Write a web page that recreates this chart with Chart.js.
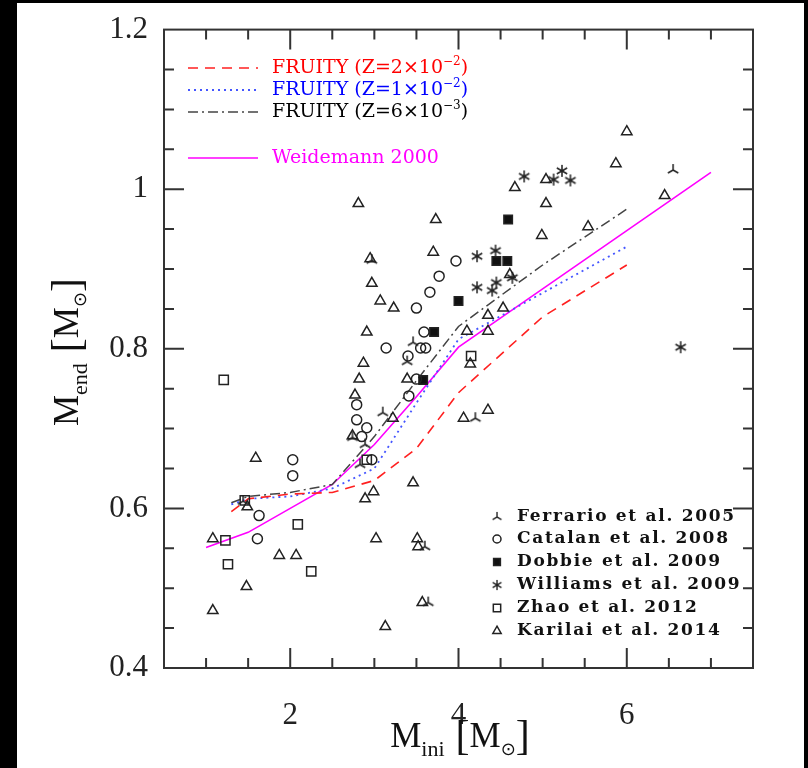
<!DOCTYPE html>
<html>
<head>
<meta charset="utf-8">
<script src="https://cdn.jsdelivr.net/npm/chart.js@4.4.0/dist/chart.umd.min.js"></script>
<style>
html, body { margin: 0; background: #000; }
#wrap { position: absolute; left: 17px; top: 3px; width: 787px; height: 765px; background: #fff; }
</style>
</head>
<body>
<div id="wrap"><canvas id="myChart"></canvas></div>
<script>
// FRUITY model tracks (M_ini -> M_end)
const fruityMass = [1.3, 1.5, 2, 2.5, 3, 3.5, 4, 5, 6];
const fruityZ020 = [0.596, 0.612, 0.618, 0.620, 0.635, 0.675, 0.745, 0.840, 0.905];
const fruityZ010 = [0.605, 0.612, 0.615, 0.625, 0.650, 0.732, 0.812, 0.870, 0.928];
const fruityZ006 = [0.607, 0.615, 0.620, 0.630, 0.690, 0.760, 0.828, 0.905, 0.975];

// Weidemann 2000 relation
const weidMass = [1, 1.5, 2, 2.5, 3, 3.5, 4, 5, 6, 7];
const weidMend = [0.551, 0.570, 0.600, 0.630, 0.680, 0.740, 0.802, 0.875, 0.948, 1.021];

// observed clusters
const ferrarioX = [6.55, 4.20, 3.46, 3.10, 2.83, 2.74, 3.60, 3.64, 1.44, 3.39, 2.89, 2.97];
const ferrarioY = [1.024, 0.713, 0.808, 0.720, 0.655, 0.689, 0.552, 0.482, 0.609, 0.784, 0.680, 0.911];

const catalanX = [2.03, 2.03, 1.63, 1.61, 3.14, 3.59, 3.55, 3.61, 3.40, 3.41, 3.50, 2.79, 2.79, 2.91, 2.85, 2.97, 3.97, 3.77, 3.66, 3.50];
const catalanY = [0.661, 0.641, 0.591, 0.562, 0.801, 0.821, 0.801, 0.801, 0.791, 0.741, 0.762, 0.730, 0.711, 0.701, 0.690, 0.661, 0.910, 0.891, 0.871, 0.851];

const dobbieX = [4.59, 4.45, 4.58, 4.00, 3.71, 3.58];
const dobbieY = [0.962, 0.910, 0.910, 0.860, 0.821, 0.761];

const williamsX = [4.78, 5.23, 5.13, 5.33, 4.22, 4.44, 4.64, 4.22, 4.45, 4.40, 6.64];
const williamsY = [1.016, 1.023, 1.012, 1.011, 0.916, 0.923, 0.889, 0.877, 0.883, 0.873, 0.802];

const zhaoX = [1.21, 1.46, 1.23, 1.26, 2.09, 2.25, 2.91, 4.15];
const zhaoY = [0.761, 0.610, 0.560, 0.530, 0.580, 0.521, 0.661, 0.791];

const karilaiX = [1.08, 1.08, 1.48, 1.59, 1.49, 1.87, 2.07, 2.89, 2.99, 3.02, 3.13, 3.46, 3.51, 3.52, 3.57, 4.06, 4.14,
  2.91, 2.87, 2.82, 2.77, 2.74, 3.39, 3.22, 6.00, 5.87, 4.67, 5.04, 5.04, 3.73, 4.99, 5.54, 6.45, 3.70, 3.07, 3.23,
  4.35, 4.53, 4.10, 4.35, 2.81, 2.95, 2.97, 4.35, 4.61];
const karilaiY = [0.472, 0.562, 0.502, 0.663, 0.602, 0.541, 0.541, 0.612, 0.621, 0.562, 0.452, 0.632, 0.562, 0.552, 0.482, 0.713, 0.781,
  0.821, 0.782, 0.762, 0.742, 0.691, 0.762, 0.713, 1.072, 1.032, 1.002, 1.012, 0.982, 0.962, 0.942, 0.953, 0.992, 0.921, 0.860, 0.851,
  0.842, 0.851, 0.822, 0.822, 0.982, 0.913, 0.882, 0.723, 0.893];

const xTickLabels = [2, 4, 6];
const yTickLabels = [0.4, 0.6, 0.8, 1.0, 1.2];

const INK = '#222';

function pts(xs, ys) {
  return xs.map((v, i) => ({ x: v, y: ys[i] }));
}

// custom marker: upside-down Y
function tripod(size) {
  const c = document.createElement('canvas');
  c.width = c.height = size;
  const g = c.getContext('2d');
  const m = size / 2, r = size / 2 - 1;
  g.strokeStyle = INK;
  g.lineWidth = 1.5;
  g.beginPath();
  g.moveTo(m, m); g.lineTo(m, m - r);
  g.moveTo(m, m); g.lineTo(m - r * 0.87, m + r * 0.5);
  g.moveTo(m, m); g.lineTo(m + r * 0.87, m + r * 0.5);
  g.stroke();
  return c;
}

// custom marker: 6-point asterisk
function asterisk(size) {
  const c = document.createElement('canvas');
  c.width = c.height = size;
  const g = c.getContext('2d');
  const m = size / 2, r = size / 2 - 1;
  g.strokeStyle = INK;
  g.lineWidth = 1.5;
  g.beginPath();
  for (const a of [90, 30, 150]) {
    const dx = Math.cos(a * Math.PI / 180) * r, dy = Math.sin(a * Math.PI / 180) * r;
    g.moveTo(m - dx, m - dy); g.lineTo(m + dx, m + dy);
  }
  g.stroke();
  return c;
}

const tripodImg = tripod(14);
const starImg = asterisk(14);

const lineSets = [
  { label: 'FRUITY', z: '2', e: '-2', data: pts(fruityMass, fruityZ020), color: '#ff2020', text: '#ff0000', dash: [10, 7], width: 1.6 },
  { label: 'FRUITY', z: '1', e: '-2', data: pts(fruityMass, fruityZ010), color: '#4455ff', text: '#0000ff', dash: [2, 4], width: 1.8 },
  { label: 'FRUITY', z: '6', e: '-3', data: pts(fruityMass, fruityZ006), color: '#444', text: '#000', dash: [10, 4, 2, 4], width: 1.5 },
  { label: 'Weidemann 2000', data: pts(weidMass, weidMend), color: '#ff00ff', text: '#ff00ff', dash: [], width: 1.6 }
];

const markerSets = [
  { label: 'Ferrario et al. 2005', data: pts(ferrarioX, ferrarioY), style: tripodImg, r: 7, fill: false },
  { label: 'Catalan et al. 2008', data: pts(catalanX, catalanY), style: 'circle', r: 5, fill: false },
  { label: 'Dobbie et al. 2009', data: pts(dobbieX, dobbieY), style: 'rect', r: 6, fill: true },
  { label: 'Williams et al. 2009', data: pts(williamsX, williamsY), style: starImg, r: 7, fill: false },
  { label: 'Zhao et al. 2012', data: pts(zhaoX, zhaoY), style: 'rect', r: 6.5, fill: false },
  { label: 'Karilai et al. 2014', data: pts(karilaiX, karilaiY), style: 'triangle', r: 6, fill: false }
];

const datasets = [];
markerSets.forEach(m => datasets.push({
  type: 'scatter',
  label: m.label,
  data: m.data,
  pointStyle: m.style,
  pointRadius: m.r,
  pointBorderWidth: 1.5,
  pointBorderColor: INK,
  pointBackgroundColor: m.fill ? '#111' : 'rgba(0,0,0,0)'
}));
lineSets.forEach(l => datasets.push({
  type: 'line',
  label: l.label,
  data: l.data,
  borderColor: l.color,
  borderWidth: l.width,
  borderDash: l.dash,
  pointRadius: 0,
  fill: false,
  tension: 0
}));

// page offset of the white panel
const OX = 17, OY = 3;

function drawSub(ctx, parts, x, y) {
  // parts: [text, font, dy]
  let cx = x;
  for (const [t, f, dy] of parts) {
    ctx.font = f;
    ctx.fillText(t, cx, y + dy);
    cx += ctx.measureText(t).width;
  }
  return cx - x;
}

function partsWidth(ctx, parts) {
  let w = 0;
  for (const [t, f] of parts) { ctx.font = f; w += ctx.measureText(t).width; }
  return w;
}

const framePlugin = {
  id: 'frame',
  afterDraw(chart) {
    const { ctx, chartArea: a, scales: { x, y } } = chart;
    ctx.save();
    ctx.strokeStyle = '#333';
    ctx.lineWidth = 2;
    ctx.setLineDash([]);
    ctx.strokeRect(a.left, a.top, a.right - a.left, a.bottom - a.top);

    // inward ticks on all four sides
    ctx.beginPath();
    for (let i = 2; i <= 14; i++) {
      const v = i / 2;
      const px = x.getPixelForValue(v);
      const len = (i % 4 === 0) ? 20 : 10;
      ctx.moveTo(px, a.bottom); ctx.lineTo(px, a.bottom - len);
      ctx.moveTo(px, a.top); ctx.lineTo(px, a.top + len);
    }
    for (let i = 1; i < 16; i++) {
      const py = y.getPixelForValue(0.4 + i * 0.05);
      const len = (i % 4 === 0) ? 20 : 10;
      ctx.moveTo(a.left, py); ctx.lineTo(a.left + len, py);
      ctx.moveTo(a.right, py); ctx.lineTo(a.right - len, py);
    }
    ctx.stroke();

    // axis titles
    ctx.fillStyle = '#111';
    ctx.textBaseline = 'alphabetic';
    const big = '35px "Liberation Serif"';
    const sub = '22px "Liberation Serif"';
    const brk = '42px "Liberation Serif"';
    const xt = [['M', big, 0], ['ini', sub, 9], ['  ', sub, 0], ['[', brk, 2], ['M', big, 0], ['\u2299', '18px "DejaVu Sans"', 8], [']', brk, 2]];
    const yt = [['M', big, 0], ['end', sub, 9], ['  ', sub, 0], ['[', brk, 2], ['M', big, 0], ['\u2299', '18px "DejaVu Sans"', 8], [']', brk, 2]];
    const wx = partsWidth(ctx, xt);
    drawSub(ctx, xt, 460 - OX - wx / 2, 747 - OY);
    const wy = partsWidth(ctx, yt);
    ctx.save();
    ctx.translate(78 - OX, 352 - OY);
    ctx.rotate(-Math.PI / 2);
    drawSub(ctx, yt, -wy / 2, 0);
    ctx.restore();

    // model legend (top left)
    ctx.textBaseline = 'middle';
    const rows = [68, 90, 112, 158];
    const lf = '19px "DejaVu Serif"';
    const sf = '12px "DejaVu Serif"';
    lineSets.forEach((l, i) => {
      const ry = rows[i] - OY;
      ctx.strokeStyle = l.color;
      ctx.lineWidth = l.width;
      ctx.setLineDash(l.dash);
      ctx.beginPath();
      ctx.moveTo(188 - OX, ry); ctx.lineTo(258 - OX, ry);
      ctx.stroke();
      ctx.setLineDash([]);
      ctx.fillStyle = l.text;
      if (l.z) {
        drawSub(ctx, [['FRUITY (Z=' + l.z + '\u00d710', lf, 0], [l.e.replace('-', '\u2212'), sf, -6], [')', lf, 0]], 272 - OX, ry);
      } else {
        drawSub(ctx, [[l.label, lf, 0]], 272 - OX, ry);
      }
    });

    // data legend (bottom right)
    const brows = [517, 539, 562, 585, 608, 631];
    markerSets.forEach((m, i) => {
      const ry = brows[i] - OY;
      const mx = 497 - OX;
      ctx.strokeStyle = INK;
      ctx.fillStyle = m.fill ? '#111' : 'rgba(0,0,0,0)';
      ctx.lineWidth = 1.5;
      if (typeof m.style === 'string') {
        Chart.helpers.drawPoint(ctx, { pointStyle: m.style, radius: m.r * 0.8, rotation: 0, borderWidth: 1.5 }, mx, ry);
      } else {
        ctx.drawImage(m.style, mx - 6, ry - 6, 12, 12);
      }
      ctx.fillStyle = '#111';
      ctx.font = 'bold 17px "DejaVu Serif"';
      ctx.letterSpacing = '1.7px';
      ctx.fillText(m.label, 517 - OX, ry);
      ctx.letterSpacing = '0px';
    });
    ctx.restore();
  }
};

const config = {
  type: 'scatter',
  data: { datasets: datasets },
  options: {
    responsive: true,
    maintainAspectRatio: false,
    animation: false,
    events: [],
    layout: { padding: { top: 25, right: 51, left: 0, bottom: 0 } },
    plugins: { legend: { display: false }, tooltip: { enabled: false } },
    scales: {
      x: {
        type: 'linear',
        min: 0.5,
        max: 7.5,
        grid: { display: false },
        border: { display: false },
        afterFit: s => { s.height = 100; },
        afterBuildTicks: s => { s.ticks = xTickLabels.map(v => ({ value: v })); },
        ticks: {
          color: '#222',
          padding: 21,
          maxRotation: 0,
          font: { family: '"Liberation Serif"', size: 31 },
          callback: v => String(v)
        }
      },
      y: {
        type: 'linear',
        min: 0.4,
        max: 1.2,
        grid: { display: false },
        border: { display: false },
        afterFit: s => { s.width = 147; },
        afterBuildTicks: s => { s.ticks = yTickLabels.map(v => ({ value: v })); },
        ticks: {
          color: '#222',
          padding: 8,
          font: { family: '"Liberation Serif"', size: 31 },
          callback: v => String(+v.toFixed(1))
        }
      }
    }
  },
  plugins: [framePlugin]
};

const myChart = new Chart(document.getElementById('myChart'), config);
</script>
</body>
</html>
